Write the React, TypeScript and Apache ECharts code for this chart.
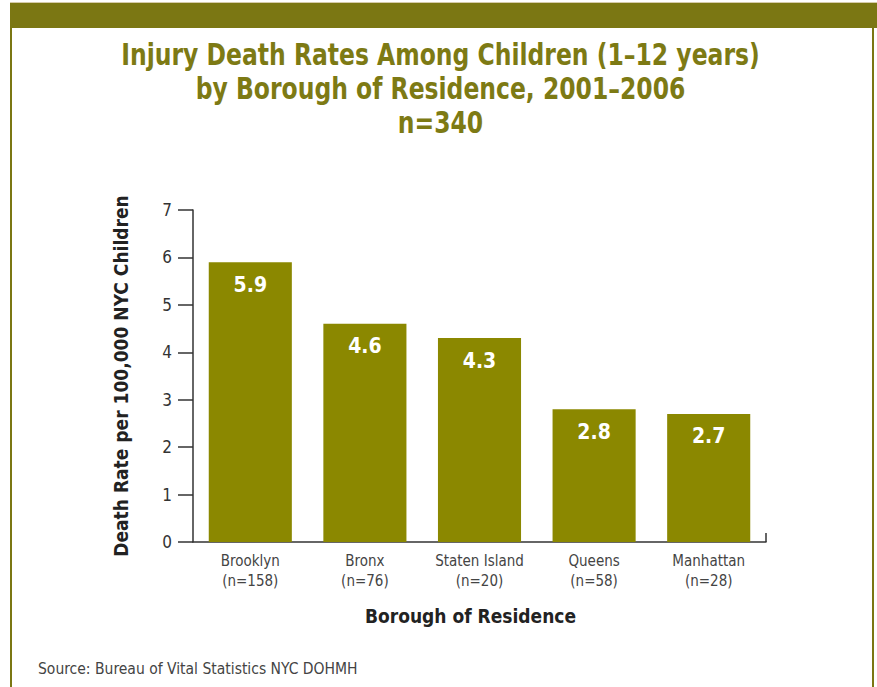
import React, { useEffect, useRef } from "react";
import * as echarts from "echarts";

const boroughs = ["Brooklyn", "Bronx", "Staten Island", "Queens", "Manhattan"];
const boroughCounts = [158, 76, 20, 58, 28];
const deathRates = [5.9, 4.6, 4.3, 2.8, 2.7];
const yTicks = [0, 1, 2, 3, 4, 5, 6, 7];
const titleLines = [
  "Injury Death Rates Among Children (1–12 years)",
  "by Borough of Residence, 2001–2006",
  "n=340",
];

const OLIVE_DARK = "#7b7713";
const OLIVE_BAR = "#8b8800";
const NARROW = "'Liberation Sans Narrow', 'DejaVu Sans Condensed', 'Roboto Condensed', sans-serif";

const W = 877;
const H = 687;
const GRID = { left: 193, right: 111, top: 210, bottom: 145 };

export default function App() {
  const ref = useRef<HTMLDivElement>(null);

  useEffect(() => {
    if (!ref.current) return;
    const chart = echarts.init(ref.current, undefined, { renderer: "svg" });
    const axisEndX = W - GRID.right;
    const axisBottomY = H - GRID.bottom;

    // condensed heading lines, centred on the page
    const titleGraphics = titleLines.map((line, i) => ({
      type: "text",
      x: W / 2 + 2,
      y: 55 + i * 34,
      scaleX: 0.87,
      style: {
        text: line,
        fontFamily: NARROW,
        fontSize: 30,
        fontWeight: "bold",
        fill: "#7d7a14",
        align: "center",
        verticalAlign: "middle",
      },
    }));

    chart.setOption({
      animation: false,
      backgroundColor: "#ffffff",
      grid: { ...GRID, containLabel: false },
      xAxis: {
        type: "category",
        data: boroughs.map((b, i) => `${b}\n(n=${boroughCounts[i]})`),
        axisLine: { show: true, lineStyle: { color: "#333", width: 1.5 } },
        axisTick: { show: false },
        axisLabel: {
          interval: 0,
          margin: 9,
          fontFamily: NARROW,
          fontSize: 15,
          lineHeight: 20,
          color: "#444",
        },
        name: "Borough of Residence",
        nameLocation: "middle",
        nameGap: 64,
        nameTextStyle: {
          fontFamily: NARROW,
          fontSize: 19,
          fontWeight: "bold",
          color: "#222",
          padding: [0, 18, 0, 0],
        },
      },
      yAxis: {
        type: "value",
        min: yTicks[0],
        max: yTicks[yTicks.length - 1],
        interval: 1,
        splitLine: { show: false },
        axisLine: { show: true, lineStyle: { color: "#333", width: 1.5 } },
        axisTick: { show: true, length: 15, lineStyle: { color: "#333", width: 1.5 } },
        axisLabel: {
          margin: 21,
          fontFamily: NARROW,
          fontSize: 17,
          color: "#333",
        },
        name: "Death Rate per 100,000 NYC Children",
        nameLocation: "middle",
        nameRotate: 90,
        nameGap: 63,
        nameTextStyle: {
          fontFamily: NARROW,
          fontSize: 19,
          fontWeight: "bold",
          color: "#222",
        },
      },
      series: [
        {
          type: "bar",
          data: deathRates,
          barWidth: "72.5%",
          itemStyle: { color: OLIVE_BAR },
          label: {
            show: true,
            position: "insideTop",
            distance: 12,
            formatter: (p: any) => p.value.toFixed(1),
            fontFamily: NARROW,
            fontSize: 21,
            fontWeight: "bold",
            color: "#ffffff",
          },
        },
      ],
      graphic: [
        // header band and page frame
        { type: "rect", shape: { x: 10, y: 2, width: W - 10, height: 1.5 }, style: { fill: "#d6ccaa" } },
        { type: "rect", shape: { x: 10, y: 3, width: W - 10, height: 25 }, style: { fill: OLIVE_DARK } },
        { type: "rect", shape: { x: 10, y: 28, width: 2, height: H - 28 }, style: { fill: OLIVE_DARK } },
        { type: "rect", shape: { x: 872, y: 28, width: 2, height: H - 28 }, style: { fill: OLIVE_DARK } },
        ...titleGraphics,
        // small closing tick at the right end of the x axis
        {
          type: "line",
          shape: { x1: axisEndX, y1: axisBottomY - 9, x2: axisEndX, y2: axisBottomY },
          style: { stroke: "#333", lineWidth: 1.5 },
        },
        {
          type: "text",
          left: 38,
          top: 661,
          style: {
            text: "Source: Bureau of Vital Statistics NYC DOHMH",
            fontFamily: NARROW,
            fontSize: 15.5,
            fill: "#444",
          },
        },
      ],
    });

    return () => chart.dispose();
  }, []);

  return (
    <div
      ref={ref}
      style={{ position: "absolute", left: 0, top: 0, width: W, height: H }}
    />
  );
}
